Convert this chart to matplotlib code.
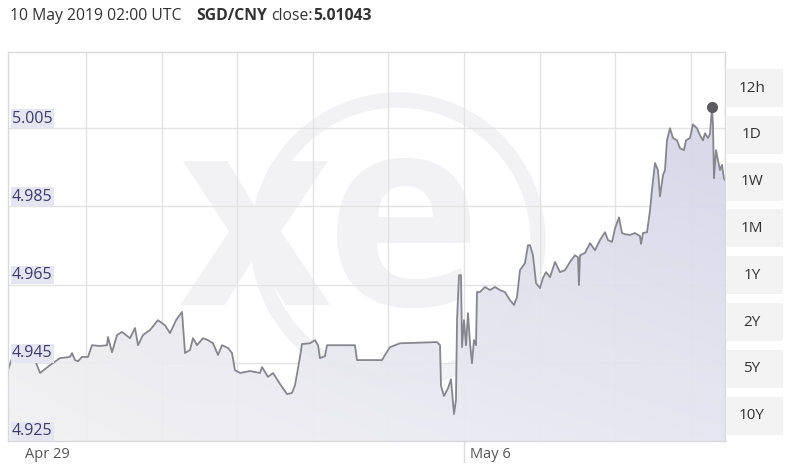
import numpy as np
import matplotlib.pyplot as plt
from matplotlib.patches import Polygon, Rectangle, Circle
from matplotlib.transforms import ScaledTranslation, IdentityTransform

plt.rcParams['font.family'] = ['Open Sans', 'DejaVu Sans']

# time in grid units (one vertical gridline per unit), rate SGD/CNY
t = [-1.032, -0.979, -0.675, -0.608, -0.476, -0.344, -0.212, -0.185, -0.146, -0.106,
     -0.053, 0.026, 0.079, 0.185, 0.278, 0.291, 0.344, 0.410, 0.476, 0.582,
     0.648, 0.688, 0.754, 0.847, 0.952, 1.045, 1.111, 1.191, 1.270, 1.310,
     1.376, 1.415, 1.468, 1.548, 1.614, 1.680, 1.746, 1.799, 1.878, 1.931,
     1.971, 2.037, 2.169, 2.302, 2.328, 2.407, 2.474, 2.566, 2.659, 2.725,
     2.765, 2.831, 2.857, 2.963, 3.029, 3.069, 3.095, 3.161, 3.188, 3.558,
     3.585, 3.915, 3.955, 4.021, 4.154, 4.643, 4.683, 4.696, 4.736, 4.789,
     4.828, 4.868, 4.894, 4.908, 4.934, 4.961, 4.974, 5.000, 5.027, 5.053,
     5.080, 5.106, 5.132, 5.159, 5.172, 5.212, 5.278, 5.344, 5.410, 5.476,
     5.542, 5.609, 5.662, 5.701, 5.741, 5.807, 5.847, 5.873, 5.913, 5.953,
     6.005, 6.045, 6.085, 6.138, 6.204, 6.270, 6.336, 6.402, 6.468, 6.508,
     6.521, 6.535, 6.601, 6.667, 6.733, 6.799, 6.865, 6.905, 6.958, 6.998,
     7.051, 7.090, 7.130, 7.196, 7.262, 7.328, 7.342, 7.368, 7.421, 7.461,
     7.487, 7.527, 7.566, 7.593, 7.633, 7.659, 7.685, 7.725, 7.765, 7.818,
     7.857, 7.910, 7.937, 7.990, 8.029, 8.082, 8.122, 8.162, 8.188, 8.228,
     8.254, 8.281, 8.294, 8.307, 8.334, 8.360, 8.387, 8.413, 8.439, 8.453]
rate = [4.9431, 4.9462, 4.9457, 4.9424, 4.9444, 4.9462, 4.9465, 4.9475, 4.9457, 4.9454,
        4.9465, 4.9465, 4.9495, 4.9493, 4.9495, 4.9516, 4.9477, 4.9521, 4.9529, 4.9513,
        4.9539, 4.9495, 4.9521, 4.9534, 4.9559, 4.9546, 4.9526, 4.9559, 4.9580, 4.9475,
        4.9483, 4.9513, 4.9495, 4.9513, 4.9508, 4.9500, 4.9470, 4.9495, 4.9488, 4.9475,
        4.9431, 4.9424, 4.9429, 4.9424, 4.9439, 4.9414, 4.9424, 4.9396, 4.9370, 4.9373,
        4.9393, 4.9465, 4.9498, 4.9500, 4.9508, 4.9495, 4.9462, 4.9467, 4.9495, 4.9495,
        4.9457, 4.9457, 4.9470, 4.9490, 4.9500, 4.9503, 4.9495, 4.9391, 4.9365, 4.9385,
        4.9408, 4.9319, 4.9355, 4.9559, 4.9674, 4.9674, 4.9490, 4.9559, 4.9495, 4.9577,
        4.9500, 4.9449, 4.9508, 4.9495, 4.9631, 4.9631, 4.9644, 4.9636, 4.9644, 4.9636,
        4.9631, 4.9610, 4.9598, 4.9618, 4.9687, 4.9705, 4.9751, 4.9751, 4.9725, 4.9654,
        4.9641, 4.9667, 4.9682, 4.9669, 4.9708, 4.9682, 4.9687, 4.9708, 4.9725, 4.9720,
        4.9649, 4.9725, 4.9731, 4.9756, 4.9738, 4.9764, 4.9784, 4.9764, 4.9759, 4.9794,
        4.9822, 4.9782, 4.9779, 4.9777, 4.9782, 4.9774, 4.9754, 4.9782, 4.9784, 4.9840,
        4.9892, 4.9961, 4.9943, 4.9876, 4.9930, 4.9943, 5.0019, 5.0050, 5.0025, 5.0019,
        4.9999, 4.9994, 5.0019, 5.0025, 5.0060, 5.0050, 5.0032, 5.0019, 5.0037, 5.0025,
        5.0035, 5.01043, 5.0058, 4.9922, 4.9994, 4.9968, 4.9943, 4.9956, 4.9922, 4.9917]

close_t = 8.281
close_rate = 5.01043
y_ticks = [4.925, 4.945, 4.965, 4.985, 5.005]
x_grid = [0, 1, 2, 3, 4, 5, 6, 7, 8]
x_ticks = [-0.89, 5]
x_labels = ['Apr 29', 'May 6']
ranges = ['12h', '1D', '1W', '1M', '1Y', '2Y', '5Y', '10Y']

t = np.array(t)
rate = np.array(rate)
xmin, xmax = -1.032, 8.453
ymin, ymax = 4.925, 5.0245

W, H = 800, 474
fig = plt.figure(figsize=(W / 100, H / 100), dpi=100)
ax = fig.add_axes([8 / W, 33 / H, 717 / W, 389 / H])
ax.set_xlim(xmin, xmax)
ax.set_ylim(ymin, ymax)

# faint "xe" watermark behind the data, placed in figure pixels
wm = '#f2f2f4'
ring = Circle((398, H - 240), 140, transform=IdentityTransform(),
              fill=False, ec=wm, lw=11, zorder=0.3)
ax.add_patch(ring)
ax.text(330 / W, 1 - 236 / H, 'xe', transform=fig.transFigure, fontsize=190,
        fontweight='bold', color=wm, ha='center', va='center', zorder=0.3)

# grid
for g in x_grid:
    ax.axvline(g, color='#e3e3e3', lw=1, zorder=1)
for g in y_ticks[1:]:
    ax.axhline(g, color='#e3e3e3', lw=1, zorder=1)

# gradient fill under the line
nx, ny = 300, 100
fx = np.linspace(0, 1, nx)[None, :, None]
fy = np.linspace(0, 1, ny)[:, None, None]
left = np.array([0.90, 0.90, 0.91])
right = np.array([0.82, 0.82, 0.90])
base = left * (1 - fx) + right * fx
w = 0.45 * (1 - fy)
img = base * (1 - w) + w
poly = Polygon(np.column_stack([np.r_[t, t[::-1]], np.r_[rate, np.full(len(rate), ymin)]]),
               closed=True, fc='none', ec='none')
ax.add_patch(poly)
im = ax.imshow(img, extent=[xmin, xmax, ymin, ymax], origin='lower', aspect='auto',
               zorder=1.5, interpolation='bilinear', alpha=0.93)
im.set_clip_path(poly)

ax.plot(t, rate, color='#86868f', lw=1.3, zorder=2)
ax.plot(close_t, close_rate, 'o', color='#5b5b60', ms=7, zorder=3)

# y labels inside the plot
for v in y_ticks:
    ax.text(0.0056, v + 0.0004, f'{v:.3f}', transform=ax.get_yaxis_transform(),
            ha='left', va='bottom', fontsize=11.5, color='#3c3c66', zorder=4,
            bbox=dict(fc='#e6e6f2', ec='none', pad=1.0))

ax.set_yticks(y_ticks)
ax.tick_params(axis='y', length=0, labelleft=False)
ax.set_xticks(x_ticks, x_labels)
ax.tick_params(axis='x', length=0, pad=4, labelsize=10.5, labelcolor='#555555')
offset = ScaledTranslation(6 / 100, 0, fig.dpi_scale_trans)
for lab in ax.get_xticklabels():
    lab.set_horizontalalignment('left')
    lab.set_transform(lab.get_transform() + offset)
ax.axvline(x_ticks[1], ymin=-0.055, ymax=0, color='#dddddd', lw=1, clip_on=False)

for s in ax.spines.values():
    s.set_color('#d9d9d9')
    s.set_linewidth(1)

# range buttons on the right
for i, r in enumerate(ranges):
    cy = 88 + 46.8 * i
    fig.patches.append(Rectangle((727 / W, 1 - (cy + 19) / H), 56 / W, 38 / H,
                                 transform=fig.transFigure, fc='#f3f3f3', ec='none'))
    fig.text(752 / W, 1 - cy / H, r, ha='center', va='center', fontsize=11,
             color='#333333')

# header line
ty = 1 - 16 / H
fig.text(10 / W, ty, '10 May 2019 02:00 UTC', fontsize=11.3, color='#333333', va='center')
renderer = fig.canvas.get_renderer()
t1 = fig.text(196 / W, ty, 'SGD/CNY', fontsize=11.3, fontweight='bold', color='#333333', va='center')
x1 = t1.get_window_extent(renderer).x1
t2 = fig.text((x1 + 4) / W, ty, 'close:', fontsize=11.3, color='#333333', va='center')
x2 = t2.get_window_extent(renderer).x1
fig.text((x2 + 1) / W, ty, '5.01043', fontsize=11.3, fontweight='bold', color='#333333', va='center')

fig.savefig('out.png', dpi=100)
